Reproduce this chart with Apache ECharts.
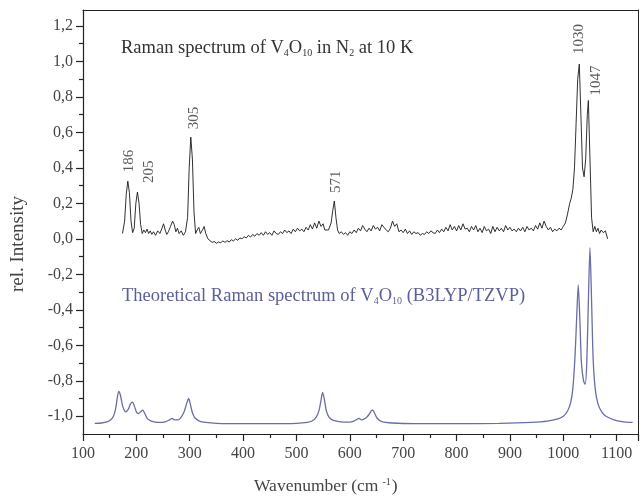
<!DOCTYPE html>
<html>
<head>
<meta charset="utf-8">
<script src="https://cdn.jsdelivr.net/npm/echarts@6/dist/echarts.min.js"></script>
<style>
html,body{margin:0;padding:0;background:#fff;}
#c{width:641px;height:501px;}
</style>
</head>
<body>
<div id="c"></div>
<script>
// ---------- data ----------
const expX = [174,178,181,184,187,190,193,196,199,202,205,208,211,214,217,220,223,226,229,232,236,240,244,248,251,254,257,260,264,268,271,274,277,280,284,288,292,296,299,302,305,308,311,314,317,320,324,327,330,334,338,342,346,350,354,358,362,366,370,374,378,382,386,390,394,398,402,406,410,414,418,422,426,430,434,438,442,446,450,454,458,462,466,470,474,478,482,486,490,494,498,502,506,510,514,518,522,526,530,534,538,542,546,550,553,556,560,565,568,571,574,577,580,584,588,592,596,600,604,608,612,616,620,624,628,632,636,640,644,648,652,656,660,664,668,672,676,680,684,688,692,696,700,704,708,712,716,720,724,728,732,736,740,744,748,752,756,760,764,768,772,776,780,784,788,792,796,800,804,808,812,816,820,824,828,832,836,840,844,848,852,856,860,864,868,872,876,880,884,888,892,896,900,904,908,912,916,920,924,928,932,936,940,944,948,952,956,960,964,968,972,976,980,984,988,992,996,1000,1004,1008,1012,1015,1018,1021,1024,1027,1030,1033,1036,1039,1042,1045,1047,1050,1053,1056,1059,1062,1065,1068,1071,1075,1079,1083];
const expY = [0.03,0.10,0.25,0.325,0.26,0.10,0.035,0.06,0.20,0.264,0.20,0.08,0.03,0.05,0.035,0.055,0.03,0.045,0.025,0.04,0.02,0.045,0.03,0.06,0.085,0.05,0.025,0.04,0.07,0.10,0.08,0.04,0.06,0.03,0.045,0.02,0.04,0.12,0.40,0.573,0.45,0.15,0.03,0.05,0.065,0.03,0.05,0.07,0.03,0.0,-0.01,-0.02,-0.015,-0.025,-0.018,-0.022,-0.012,-0.02,-0.01,-0.018,-0.005,-0.012,0.0,-0.008,0.005,0.0,0.012,0.005,0.02,0.01,0.025,0.015,0.03,0.02,0.035,0.02,0.04,0.025,0.035,0.02,0.045,0.03,0.025,0.04,0.03,0.05,0.035,0.045,0.03,0.055,0.04,0.06,0.045,0.055,0.04,0.065,0.05,0.08,0.055,0.09,0.06,0.10,0.07,0.085,0.05,0.06,0.05,0.09,0.16,0.213,0.12,0.05,0.03,0.04,0.025,0.035,0.02,0.04,0.03,0.05,0.035,0.06,0.045,0.075,0.055,0.04,0.06,0.045,0.075,0.055,0.065,0.045,0.08,0.065,0.05,0.04,0.06,0.10,0.07,0.085,0.04,0.05,0.035,0.055,0.03,0.045,0.025,0.04,0.03,0.035,0.02,0.03,0.025,0.04,0.03,0.045,0.035,0.03,0.05,0.035,0.055,0.04,0.065,0.045,0.08,0.05,0.07,0.045,0.075,0.05,0.085,0.055,0.06,0.04,0.07,0.05,0.075,0.04,0.06,0.035,0.07,0.045,0.055,0.03,0.07,0.04,0.065,0.045,0.06,0.04,0.075,0.05,0.065,0.045,0.055,0.04,0.06,0.045,0.065,0.04,0.07,0.05,0.06,0.045,0.075,0.055,0.09,0.06,0.10,0.07,0.05,0.065,0.04,0.055,0.045,0.06,0.05,0.07,0.09,0.14,0.20,0.23,0.28,0.40,0.65,0.90,0.985,0.70,0.40,0.35,0.45,0.70,0.78,0.45,0.12,0.04,0.07,0.04,0.06,0.03,0.05,0.035,0.045,0.0];

const theoX = [122,135,145,152,157,161,164,167,170,174,178,180,185,189,193,196,200,204,208,212,215,220,226,235,245,255,262,267,271,278,285,290,294,298,301,305,310,318,330,350,400,450,500,520,530,537,542,546,549,552,556,561,568,580,595,605,612,617,622,630,636,640,643,646,651,660,680,720,800,880,940,970,990,1000,1008,1014,1018,1022,1025,1028,1031,1034,1038,1041,1044,1047,1050,1053,1056,1060,1065,1072,1080,1095,1110,1130];
const theoY = [-1.04,-1.038,-1.032,-1.02,-1.0,-0.96,-0.9,-0.86,-0.88,-0.94,-0.97,-0.975,-0.96,-0.93,-0.92,-0.94,-0.975,-0.985,-0.975,-0.965,-0.98,-1.01,-1.025,-1.033,-1.035,-1.03,-1.02,-1.012,-1.02,-1.02,-1.0,-0.97,-0.93,-0.9,-0.93,-0.98,-1.01,-1.027,-1.035,-1.04,-1.042,-1.042,-1.04,-1.035,-1.025,-1.005,-0.97,-0.91,-0.865,-0.9,-0.97,-1.005,-1.022,-1.03,-1.033,-1.03,-1.02,-1.012,-1.02,-1.01,-0.99,-0.97,-0.965,-0.98,-1.01,-1.03,-1.038,-1.042,-1.042,-1.04,-1.035,-1.028,-1.015,-1.0,-0.97,-0.92,-0.84,-0.66,-0.45,-0.26,-0.45,-0.7,-0.8,-0.82,-0.7,-0.35,-0.05,-0.35,-0.68,-0.85,-0.93,-0.975,-1.0,-1.02,-1.03,-1.035];

const peakPos = [186, 205, 305, 571, 1030, 1047];
const peakVal = [0.325, 0.264, 0.573, 0.213, 0.985, 0.78];
const peakText = ['186', '205', '305', '571', '1030', '1047'];

const yMajor = [-1.0,-0.8,-0.6,-0.4,-0.2,0.0,0.2,0.4,0.6,0.8,1.0,1.2];
const yMinor = [-0.9,-0.7,-0.5,-0.3,-0.1,0.1,0.3,0.5,0.7,0.9,1.1];

// ---------- styles ----------
const FONT = '"Liberation Serif","Times New Roman",serif';
const labelShift = [[0,9],[10,9],[2,8],[2,8],[0,10],[8,5]]; // px: [dx, gap above peak]

const zip = (a, b) => a.map((v, i) => [v, b[i]]);

const chart = echarts.init(document.getElementById('c'), null, {renderer: 'canvas'});
const option = {
  animation: false,
  backgroundColor: '#fff',
  grid: {left: 83, right: 3, top: 10, bottom: 67, containLabel: false},
  xAxis: [{
    type: 'value', min: 100, max: 1140, interval: 100, position: 'bottom',
    axisLine: {onZero: false, lineStyle: {color: '#222', width: 1.2}},
    axisTick: {inside: false, length: 7, lineStyle: {color: '#222', width: 1.2}},
    minorTick: {show: true, splitNumber: 2, length: 4, lineStyle: {color: '#222', width: 1.2}},
    splitLine: {show: false},
    axisLabel: {color: '#444', fontFamily: FONT, fontSize: 16, margin: 12, formatter: v => String(v)}
  }, {
    type: 'value', min: 100, max: 1140, position: 'top',
    axisLine: {show: true, onZero: false, lineStyle: {color: '#222', width: 1.2}},
    axisTick: {show: false}, axisLabel: {show: false}, splitLine: {show: false}
  }],
  yAxis: [{
    type: 'value', min: -1.1, max: 1.29, position: 'left',
    axisLine: {show: true, onZero: false, lineStyle: {color: '#222', width: 1.2}},
    axisTick: {show: true, length: 7, customValues: yMajor, lineStyle: {color: '#222', width: 1.2}},
    axisLabel: {
      color: '#444', fontFamily: FONT, fontSize: 16, margin: 10, customValues: yMajor,
      formatter: v => v.toFixed(1).replace('.', ',')
    },
    splitLine: {show: false}
  }, {
    type: 'value', min: -1.1, max: 1.29, position: 'left',
    axisLine: {show: false, onZero: false},
    axisTick: {show: true, length: 4, customValues: yMinor, lineStyle: {color: '#222', width: 1.2}},
    axisLabel: {show: false, customValues: yMinor}, splitLine: {show: false}
  }, {
    type: 'value', min: -1.1, max: 1.29, position: 'right',
    axisLine: {show: true, onZero: false, lineStyle: {color: '#222', width: 1}},
    axisTick: {show: false}, axisLabel: {show: false}, splitLine: {show: false}
  }],
  series: [{
    type: 'line', data: zip(expX, expY), showSymbol: false, symbol: 'none',
    lineStyle: {color: '#1a1a1a', width: 0.9}
  }, {
    type: 'line', data: zip(theoX, theoY), showSymbol: false, symbol: 'none', smooth: 0.25,
    lineStyle: {color: '#6a6da6', width: 1.3}
  }, {
    type: 'scatter', symbolSize: 0, silent: true,
    data: peakPos.map((p, i) => ({
      value: [p, peakVal[i]],
      label: {
        show: true, formatter: peakText[i], rotate: 90,
        position: [labelShift[i][0], -labelShift[i][1]],
        align: 'left', verticalAlign: 'middle',
        fontFamily: FONT, fontSize: 15, color: '#333'
      }
    }))
  }],
  graphic: [{
    type: 'text', left: 121, top: 39,
    style: {
      text: '{a|Raman spectrum of V}{s|4}{a|O}{s|10}{a| in N}{s|2}{a| at 10 K}',
      rich: {
        a: {fontFamily: FONT, fontSize: 18.5, lineHeight: 22, fill: '#333', verticalAlign: 'bottom'},
        s: {fontFamily: FONT, fontSize: 10, lineHeight: 11, fill: '#333', verticalAlign: 'bottom'}
      }
    }
  }, {
    type: 'text', left: 122, top: 287,
    style: {
      text: '{a|Theoretical Raman spectrum of V}{s|4}{a|O}{s|10}{a| (B3LYP/TZVP)}',
      rich: {
        a: {fontFamily: FONT, fontSize: 18.5, lineHeight: 22, fill: '#5b5f98', verticalAlign: 'bottom'},
        s: {fontFamily: FONT, fontSize: 10, lineHeight: 11, fill: '#5b5f98', verticalAlign: 'bottom'}
      }
    }
  }, {
    type: 'text', left: 254, top: 477,
    style: {
      text: '{a|Wavenumber (cm}{p|-1}{a|)}',
      rich: {
        a: {fontFamily: FONT, fontSize: 17.5, lineHeight: 21, fill: '#444', verticalAlign: 'top'},
        p: {fontFamily: FONT, fontSize: 10, lineHeight: 12, fill: '#444', verticalAlign: 'top', padding: [0, 1, 0, 4]}
      }
    }
  }, {
    type: 'text', x: 18, y: 244, rotation: Math.PI / 2,
    style: {
      text: 'rel. Intensity', fontFamily: FONT, fontSize: 19, fill: '#444',
      align: 'center', verticalAlign: 'middle'
    }
  }]
};
chart.setOption(option);
</script>
</body>
</html>
